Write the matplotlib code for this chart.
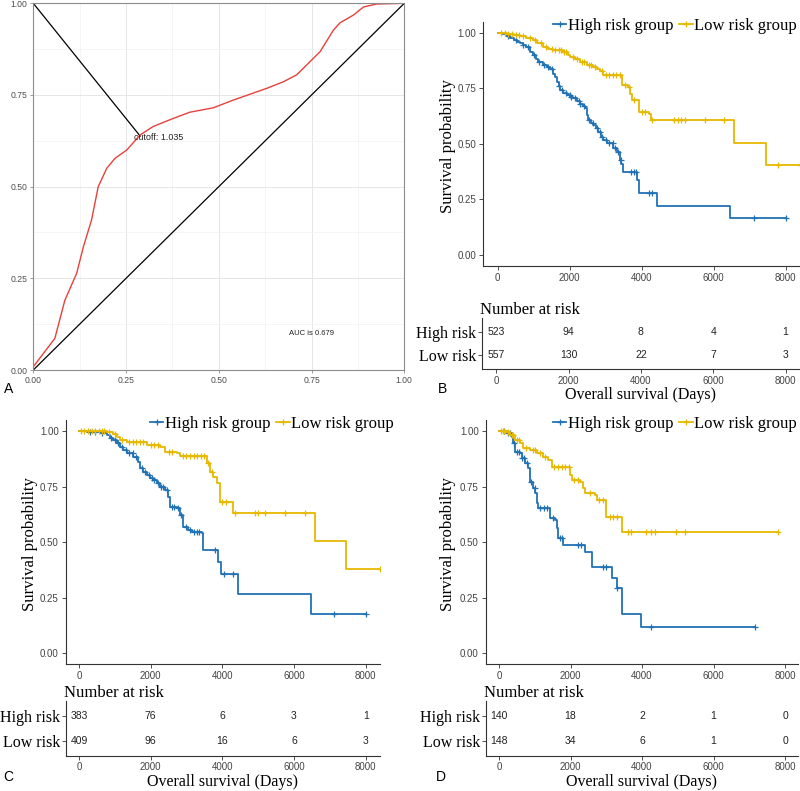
import numpy as np
import matplotlib
matplotlib.use("Agg")
import matplotlib.pyplot as plt
from matplotlib.lines import Line2D

SERIF = "Liberation Serif"
SANS = "Liberation Sans"
plt.rcParams["font.family"] = SANS

blue = "#2171b5"
yellow = "#e7b800"
red = "#e8413c"

# ---- panel A: ROC ----
roc_fpr = [0, 0.058, 0.085, 0.117, 0.135, 0.157, 0.175, 0.198, 0.22, 0.252, 0.288, 0.323, 0.377,
           0.422, 0.485, 0.539, 0.584, 0.629, 0.674, 0.71, 0.737, 0.773, 0.809, 0.827, 0.863,
           0.89, 0.925, 1.0]
roc_tpr = [0.009, 0.086, 0.19, 0.264, 0.336, 0.409, 0.5, 0.55, 0.577, 0.6, 0.641, 0.664, 0.686,
           0.703, 0.715, 0.736, 0.752, 0.768, 0.786, 0.805, 0.832, 0.868, 0.927, 0.947, 0.968,
           0.99, 0.998, 1.0]
cutoff_pt = (0.288, 0.638)
cutoff_label = "cutoff: 1.035"
auc_label = "AUC is 0.679"
roc_ticks = [0, 0.25, 0.5, 0.75, 1.0]

# ---- KM curves (event times, survival after step, censor times, last follow-up) ----
b_high_t = [0, 110, 250, 350, 450, 550, 620, 700, 800, 900, 990, 1060, 1130, 1250, 1360, 1450,
            1546, 1600, 1639, 1690, 1732, 1820, 1917, 2010, 2102, 2200, 2287, 2360, 2426, 2480,
            2519, 2600, 2658, 2720, 2796, 2870, 2935, 3030, 3121, 3213, 3306, 3398, 3440, 3491,
            3861, 3935, 4435, 6454]
b_high_s = [1.0, 0.996, 0.985, 0.975, 0.968, 0.96, 0.955, 0.945, 0.935, 0.915, 0.898, 0.88,
            0.868, 0.855, 0.846, 0.835, 0.816, 0.8, 0.778, 0.76, 0.741, 0.73, 0.719, 0.71, 0.704,
            0.692, 0.681, 0.67, 0.659, 0.63, 0.606, 0.595, 0.584, 0.57, 0.554, 0.53, 0.516, 0.505,
            0.501, 0.479, 0.464, 0.427, 0.41, 0.374, 0.337, 0.277, 0.217, 0.165]
b_high_c = [300, 500, 700, 850, 1000, 1150, 1300, 1400, 1500, 1700, 1800, 1900, 2000, 2050, 2150,
            2250, 2300, 2400, 2550, 2650, 2750, 2850, 2900, 3000, 3100, 3200, 3250, 3350, 3420,
            3700, 3800, 3850, 4200, 4300, 7130, 8000]
b_high_end = 8000
b_low_t = [0, 250, 450, 620, 800, 991, 1100, 1269, 1400, 1546, 1824, 1950, 2009, 2150, 2287, 2472,
           2658, 2750, 2843, 2935, 3444, 3630, 3676, 3722, 3935, 4200, 4260, 6573, 7445]
b_low_s = [1.0, 0.995, 0.99, 0.984, 0.975, 0.966, 0.955, 0.936, 0.928, 0.921, 0.913, 0.9, 0.891,
           0.88, 0.868, 0.853, 0.846, 0.838, 0.828, 0.808, 0.763, 0.756, 0.726, 0.696, 0.644,
           0.636, 0.606, 0.501, 0.404]
b_low_c = [100, 200, 300, 400, 500, 600, 700, 900, 1050, 1200, 1350, 1500, 1600, 1700, 1750, 1850,
           1900, 2100, 2200, 2350, 2400, 2550, 2600, 2700, 2900, 3000, 3100, 3200, 3300, 3400,
           3550, 3650, 3800, 4000, 4100, 4300, 4900, 5000, 5100, 5200, 5750, 6300, 7800, 8400]
b_low_end = 8400

c_high_t = [0, 214, 586, 772, 860, 958, 1050, 1144, 1240, 1330, 1516, 1656, 1702, 1800, 1888, 1980,
            2074, 2170, 2260, 2400, 2493, 2539, 2725, 2818, 2911, 3050, 3143, 3422, 3469, 3888,
            3962, 4445, 6464]
c_high_s = [1.0, 0.994, 0.99, 0.982, 0.97, 0.96, 0.945, 0.93, 0.915, 0.9, 0.885, 0.862, 0.832,
            0.815, 0.802, 0.79, 0.78, 0.765, 0.75, 0.735, 0.705, 0.66, 0.652, 0.622, 0.57, 0.555,
            0.547, 0.54, 0.465, 0.412, 0.356, 0.265, 0.178]
c_high_c = [300, 450, 650, 900, 1000, 1100, 1200, 1300, 1400, 1500, 1600, 1750, 1850, 1950, 2050,
            2100, 2200, 2300, 2350, 2450, 2600, 2650, 2750, 2850, 3000, 3100, 3200, 3300, 3350,
            3800, 4050, 4300, 7110, 8000]
c_high_end = 8000
c_low_t = [0, 772, 958, 1050, 1144, 1330, 1888, 2260, 2400, 2725, 2818, 3562, 3655, 3748, 3850,
           3934, 4306, 6584, 7440]
c_low_s = [1.0, 0.995, 0.985, 0.972, 0.96, 0.952, 0.937, 0.93, 0.907, 0.9, 0.888, 0.855, 0.817,
           0.795, 0.765, 0.682, 0.632, 0.505, 0.378]
c_low_c = [50, 150, 250, 350, 450, 550, 650, 700, 850, 1000, 1200, 1400, 1500, 1600, 1700, 1800,
           2000, 2100, 2200, 2500, 2600, 2900, 3000, 3100, 3200, 3300, 3400, 3500, 3600, 3700,
           4000, 4100, 4350, 4900, 5000, 5200, 5750, 6300, 8400]
c_low_end = 8400

d_high_t = [0, 214, 354, 401, 447, 587, 634, 727, 820, 867, 960, 1007, 1053, 1100, 1426, 1566,
            1612, 1659, 1799, 2405, 2591, 3150, 3290, 3430, 3961]
d_high_s = [1.0, 0.99, 0.975, 0.945, 0.907, 0.9, 0.877, 0.855, 0.832, 0.772, 0.742, 0.72, 0.675,
            0.652, 0.607, 0.6, 0.562, 0.517, 0.487, 0.457, 0.39, 0.337, 0.292, 0.175, 0.118]
d_high_c = [150, 250, 300, 420, 500, 550, 650, 700, 780, 900, 1000, 1150, 1250, 1350, 1500, 1700,
            1750, 2200, 2300, 2900, 3000, 3300, 4240, 7158]
d_high_end = 7158
d_low_t = [0, 214, 308, 447, 587, 680, 867, 1053, 1240, 1380, 1473, 1985, 2032, 2265, 2358, 2405,
           2684, 2731, 2982, 3448]
d_low_s = [1.0, 0.997, 0.982, 0.96, 0.945, 0.922, 0.915, 0.9, 0.885, 0.87, 0.84, 0.802, 0.78,
           0.772, 0.742, 0.72, 0.712, 0.69, 0.615, 0.545]
d_low_c = [50, 100, 150, 250, 350, 400, 500, 550, 750, 950, 1000, 1150, 1300, 1550, 1650, 1750,
           1850, 1950, 2100, 2200, 2550, 2800, 2900, 3100, 3200, 3300, 3600, 3700, 4100, 4250,
           4350, 4950, 5200, 7810]
d_low_end = 7810

# number at risk
risk_times = [0, 2000, 4000, 6000, 8000]
b_risk_high = [523, 94, 8, 4, 1]
b_risk_low = [557, 130, 22, 7, 3]
c_risk_high = [383, 76, 6, 3, 1]
c_risk_low = [409, 96, 16, 6, 3]
d_risk_high = [140, 18, 2, 1, 0]
d_risk_low = [148, 34, 6, 1, 0]

W, H = 800, 791
fig = plt.figure(figsize=(W / 100, H / 100), dpi=100)


def px_axes(l, t, r, b):
    return fig.add_axes([l / W, 1 - b / H, (r - l) / W, (b - t) / H])


def ftext(x, y, s, **kw):
    fig.text(x / W, 1 - y / H, s, **kw)


# ---------------- A ----------------
ax = px_axes(33.3, 3.3, 404.3, 370)
ax.set_xlim(0, 1)
ax.set_ylim(0, 1)
ax.set_xticks(roc_ticks)
ax.set_yticks(roc_ticks)
ax.set_xticklabels(["%.2f" % v for v in roc_ticks])
ax.set_yticklabels(["%.2f" % v for v in roc_ticks])
ax.set_xticks([0.125, 0.375, 0.625, 0.875], minor=True)
ax.set_yticks([0.125, 0.375, 0.625, 0.875], minor=True)
ax.grid(True, which="major", color="#e6e6e6", lw=0.7)
ax.grid(True, which="minor", color="#f2f2f2", lw=0.5)
ax.set_axisbelow(True)
for sp in ax.spines.values():
    sp.set_color("#8c8c8c")
    sp.set_linewidth(0.8)
ax.tick_params(which="major", length=2.5, width=0.6, color="#8c8c8c", labelsize=6.2,
               labelcolor="#4d4d4d", pad=1.5)
ax.tick_params(which="minor", length=0)
ax.plot([0, 1], [0, 1], color="black", lw=0.9)
ax.plot([0, cutoff_pt[0]], [1, cutoff_pt[1]], color="black", lw=0.9)
ax.plot(roc_fpr, roc_tpr, color=red, lw=1.0)
ax.text(cutoff_pt[0] - 0.017, cutoff_pt[1] - 0.003, cutoff_label, fontsize=6.4, ha="left",
        va="center", color="#222222")
ax.text(0.75, 0.1, auc_label, fontsize=5.5, ha="center", va="center", color="#222222")
ftext(4, 389, "A", fontsize=10, ha="left", va="center")


def draw_km(ax, t, s, cens, end, color):
    t = np.asarray(t, float)
    s = np.asarray(s, float)
    tt = np.append(t, end)
    ss = np.append(s, s[-1])
    ax.step(tt, ss, where="post", color=color, lw=1.3)
    c = np.asarray(cens, float)
    cy = s[np.searchsorted(t, c, side="right") - 1]
    ax.plot(c, cy, ls="none", marker="+", ms=5, mew=0.9, color=color)


def style_axis(ax):
    for side in ["top", "right"]:
        ax.spines[side].set_visible(False)
    for side in ["left", "bottom"]:
        ax.spines[side].set_color("#333333")
        ax.spines[side].set_linewidth(0.8)
    ax.tick_params(length=3, width=0.6, color="#333333", labelsize=7, labelcolor="#444444",
                   pad=2)


def km_panel(l, t, r, b, xlim, high, low, leg_right, leg_y, ylab_x):
    ax = px_axes(l, t, r, b)
    draw_km(ax, *high, blue)
    draw_km(ax, *low, yellow)
    ax.set_xlim(*xlim)
    ax.set_ylim(-0.05, 1.05)
    ax.set_xticks(risk_times)
    ax.set_yticks([0, 0.25, 0.5, 0.75, 1.0])
    ax.set_yticklabels(["0.00", "0.25", "0.50", "0.75", "1.00"])
    style_axis(ax)
    handles = [Line2D([], [], color=blue, lw=1.3, marker="+", ms=5, mew=0.9),
               Line2D([], [], color=yellow, lw=1.3, marker="+", ms=5, mew=0.9)]
    ax.legend(handles, ["High risk group", "Low risk group"], loc="center right",
              bbox_to_anchor=(leg_right / W, 1 - leg_y / H), bbox_transform=fig.transFigure,
              ncol=2, frameon=False, borderpad=0, borderaxespad=0, handlelength=0.8,
              handletextpad=0.1, columnspacing=0.35, prop={"family": SERIF, "size": 12})
    ftext(ylab_x, (t + b) / 2 + 2, "Survival probability", family=SERIF, fontsize=12,
          rotation=90, ha="center", va="center")
    return ax


def risk_panel(l, t, r, b, xlim, high, low, xlab_y, letter, letter_x, letter_y):
    ax = px_axes(l, t, r, b)
    ax.set_xlim(*xlim)
    ax.set_ylim(0.4, 2.6)
    for x, n in zip(risk_times, high):
        ax.text(x, 2, str(n), ha="center", va="center", fontsize=7.5, color="#222222")
    for x, n in zip(risk_times, low):
        ax.text(x, 1, str(n), ha="center", va="center", fontsize=7.5, color="#222222")
    ax.set_xticks(risk_times)
    ax.set_yticks([1, 2])
    ax.set_yticklabels(["Low risk", "High risk"], family=SERIF, fontsize=11.5, color="black")
    style_axis(ax)
    ax.tick_params(axis="x", pad=1.5)
    ax.tick_params(axis="y", labelcolor="black", labelsize=11.5, pad=1)
    ax.text(-0.005, 1.0, "Number at risk", transform=ax.transAxes, family=SERIF, fontsize=12,
            ha="left", va="bottom")
    ftext((l + r) / 2, xlab_y, "Overall survival (Days)", family=SERIF, fontsize=11.5,
          ha="center", va="center")
    ftext(letter_x, letter_y, letter, fontsize=10, ha="left", va="center")


# ---------------- B ----------------
km_panel(483.3, 21.7, 800, 265.7, (-400, 8400),
         (b_high_t, b_high_s, b_high_c, b_high_end), (b_low_t, b_low_s, b_low_c, b_low_end),
         797, 25.7, 448)
risk_panel(481.7, 318, 800, 369.3, (-400, 8400), b_risk_high, b_risk_low, 394.5, "B", 438, 389)

# ---------------- C ----------------
km_panel(65.7, 420, 380, 664.4, (-371, 8400),
         (c_high_t, c_high_s, c_high_c, c_high_end), (c_low_t, c_low_s, c_low_c, c_low_end),
         394, 424, 30)
risk_panel(65.7, 701, 380, 756, (-371, 8400), c_risk_high, c_risk_low, 782, "C", 3, 777)

# ---------------- D ----------------
km_panel(485.7, 420, 798, 664.4, (-372, 8363),
         (d_high_t, d_high_s, d_high_c, d_high_end), (d_low_t, d_low_s, d_low_c, d_low_end),
         797, 424, 448)
risk_panel(485.7, 701, 798, 756, (-372, 8363), d_risk_high, d_risk_low, 782, "D", 436, 777)

fig.savefig("out.png", dpi=100)
